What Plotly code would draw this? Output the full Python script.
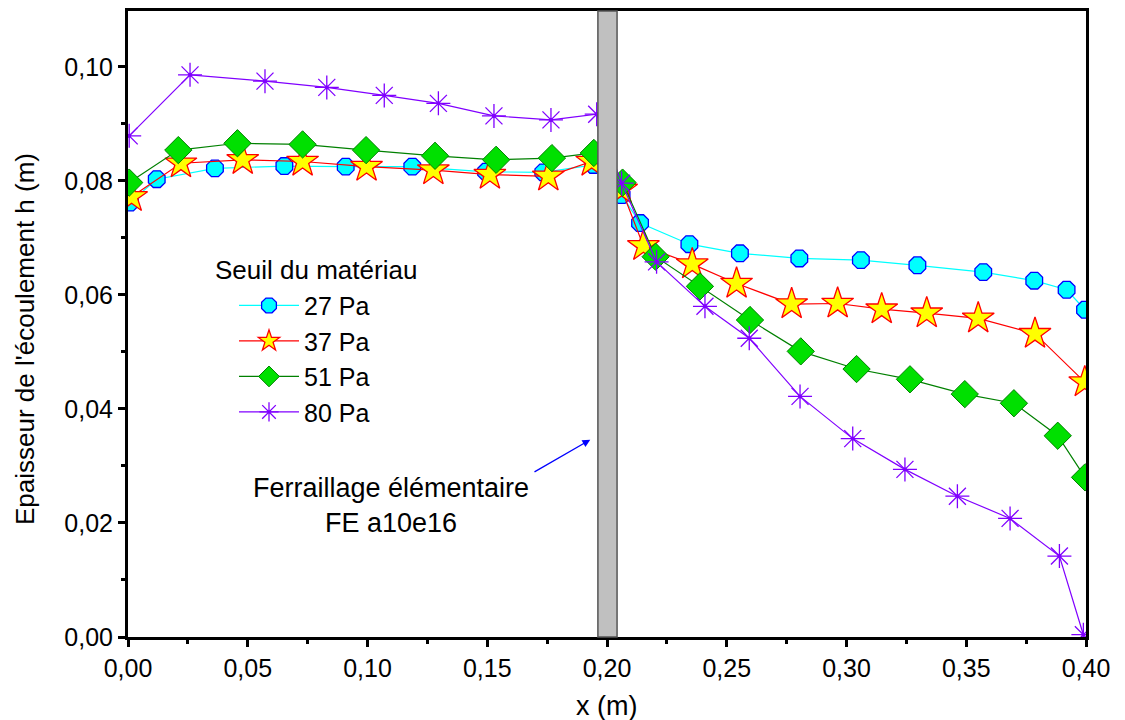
import plotly.graph_objects as go

# ---- data ----
x_27 = [0.0008, 0.012, 0.0363, 0.0653, 0.0909, 0.1187, 0.1495, 0.1734, 0.1943,
        0.2061, 0.2138, 0.2344, 0.2555, 0.2803, 0.306, 0.3296, 0.3571, 0.3784, 0.3919, 0.3996]
y_27 = [0.0762, 0.0803, 0.0822, 0.0826, 0.0825, 0.0825, 0.0816, 0.0815, 0.0828,
        0.0775, 0.0726, 0.0689, 0.0673, 0.0664, 0.0661, 0.0652, 0.0640, 0.0625, 0.0609, 0.0574]

x_37 = [0.0015, 0.0221, 0.0479, 0.0729, 0.0996, 0.1275, 0.1511, 0.1755, 0.1936,
        0.2061, 0.2152, 0.2356, 0.2541, 0.2771, 0.2963, 0.3147, 0.3335, 0.355, 0.3787, 0.3995]
y_37 = [0.0772, 0.0831, 0.0837, 0.0834, 0.0825, 0.0819, 0.0811, 0.0808, 0.0834,
        0.0785, 0.0686, 0.0654, 0.0620, 0.0584, 0.0585, 0.0575, 0.0568, 0.0559, 0.0532, 0.0447]

x_51 = [0.0005, 0.021, 0.0457, 0.0729, 0.0994, 0.1282, 0.1537, 0.177, 0.1945,
        0.2065, 0.2203, 0.2388, 0.2597, 0.2809, 0.3042, 0.3265, 0.3494, 0.3699, 0.3882, 0.3996]
y_51 = [0.0797, 0.0854, 0.0866, 0.0864, 0.0854, 0.0844, 0.0837, 0.0840, 0.0849,
        0.0797, 0.0667, 0.0615, 0.0556, 0.0501, 0.0470, 0.0452, 0.0426, 0.0410, 0.0353, 0.0280]

x_80 = [0.0005, 0.0259, 0.0572, 0.083, 0.107, 0.1296, 0.1528, 0.1766, 0.1957,
        0.2061, 0.2207, 0.2409, 0.2594, 0.2806, 0.3026, 0.3244, 0.3463, 0.3683, 0.3889, 0.3989]
y_80 = [0.0879, 0.0986, 0.0975, 0.0964, 0.0950, 0.0936, 0.0914, 0.0907, 0.0917,
        0.0796, 0.0658, 0.0580, 0.0524, 0.0422, 0.0348, 0.0294, 0.0247, 0.0208, 0.0142, 0.0004]

series_names = ["27 Pa", "37 Pa", "51 Pa", "80 Pa"]
legend_title = "Seuil du matériau"
band_x = [0.1962, 0.2042]
x_ticks = [0.00, 0.05, 0.10, 0.15, 0.20, 0.25, 0.30, 0.35, 0.40]
y_ticks = [0.00, 0.02, 0.04, 0.06, 0.08, 0.10]
x_ticklabels = ["0,00", "0,05", "0,10", "0,15", "0,20", "0,25", "0,30", "0,35", "0,40"]
y_ticklabels = ["0,00", "0,02", "0,04", "0,06", "0,08", "0,10"]

FONT = "Liberation Sans, Arial, sans-serif"

# page body has an 8px margin; figure geometry is set so the plot area
# lands at x 128..1086, y 11..637 of the 1125x720 window
OFF = 8
L, T = 128 - OFF, 11 - OFF
PW, PH = 958, 626
W, H = 1125 - OFF, 720 - OFF

fig = go.Figure()

fig.add_trace(go.Scatter(
    x=x_27, y=y_27, name=series_names[0], mode="lines+markers", legendgroup="a",
    line=dict(color="#00FFFF", width=1.2),
    marker=dict(symbol="octagon", size=18, color="#00FFFF", line=dict(color="#0000FF", width=1.3)),
))
fig.add_trace(go.Scatter(
    x=x_37, y=y_37, name=series_names[1], mode="lines+markers", legendgroup="b",
    line=dict(color="#FF0000", width=1.2),
    marker=dict(symbol="star", size=24, color="#FFFF00", line=dict(color="#FF0000", width=1.3)),
))
fig.add_trace(go.Scatter(
    x=x_51, y=y_51, name=series_names[2], mode="lines+markers", legendgroup="c",
    line=dict(color="#008000", width=1.2),
    marker=dict(symbol="diamond", size=21, color="#00E000", line=dict(color="#008000", width=1)),
))
fig.add_trace(go.Scatter(
    x=x_80, y=y_80, name=series_names[3], mode="lines+markers", legendgroup="d",
    line=dict(color="#8000FF", width=1.2),
    marker=dict(symbol="asterisk-open", size=20, color="#8000FF", line=dict(color="#8000FF", width=1.3)),
))
# centre dots of the asterisks
fig.add_trace(go.Scatter(
    x=x_80, y=y_80, mode="markers", showlegend=False, hoverinfo="skip",
    marker=dict(symbol="circle", size=4, color="#8000FF"),
))

# grey band (ferraillage)
fig.add_shape(type="rect", xref="x", yref="paper", x0=band_x[0], x1=band_x[1], y0=0, y1=1,
              fillcolor="#C0C0C0", line=dict(color="#555555", width=1.5), layer="above")

# annotation with arrow
fig.add_annotation(x=0.1930, y=0.0346, ax=0.1691, ay=0.0288, xref="x", yref="y",
                   axref="x", ayref="y", text="", showarrow=True, arrowhead=2,
                   arrowsize=1.2, arrowwidth=1.3, arrowcolor="#0000FF")
fig.add_annotation(x=0.1100, y=0.0230, xref="x", yref="y", showarrow=False,
                   text="Ferraillage élémentaire<br>FE a10e16",
                   font=dict(family=FONT, size=27, color="#000000"), align="center")

# legend title
fig.add_annotation(x=(213 - 128) / PW, y=(637 - 270) / PH, xref="paper", yref="paper",
                   xanchor="left", yanchor="middle", showarrow=False, text=legend_title,
                   font=dict(family=FONT, size=26, color="#000000"))

# y axis title (placed as in reference)
fig.add_annotation(x=(25 - 128) / PW, y=(637 - 339) / PH, xref="paper", yref="paper",
                   xanchor="center", yanchor="middle", showarrow=False, textangle=-90,
                   text="Epaisseur de l'écoulement h (m)",
                   font=dict(family=FONT, size=26, color="#000000"))

# x axis title
fig.add_annotation(x=(606 - 128) / PW, y=(637 - 706) / PH, xref="paper", yref="paper",
                   xanchor="center", yanchor="middle", showarrow=False,
                   text="x (m)", font=dict(family=FONT, size=27, color="#000000"))

axis_common = dict(
    showline=True, linecolor="#000000", linewidth=3, mirror=True,
    ticks="outside", ticklen=7, tickwidth=3, tickcolor="#000000",
    showgrid=False, zeroline=False, automargin=False,
    tickfont=dict(family=FONT, size=25, color="#000000"),
)

fig.update_layout(
    width=W, height=H,
    paper_bgcolor="white", plot_bgcolor="white",
    margin=dict(l=L, r=W - L - PW, t=T, b=H - T - PH, pad=0),
    font=dict(family=FONT, size=18, color="#000000"),
    xaxis=dict(range=[0, 0.40], tickmode="array", tickvals=x_ticks, ticktext=x_ticklabels,
               minor=dict(ticks="outside", ticklen=4, tickwidth=3, tickcolor="#000000",
                          tickmode="linear", tick0=0, dtick=0.025),
               **axis_common),
    yaxis=dict(range=[0, 0.1098], tickmode="array", tickvals=y_ticks, ticktext=y_ticklabels,
               minor=dict(ticks="outside", ticklen=4, tickwidth=3, tickcolor="#000000",
                          tickmode="linear", tick0=0, dtick=0.01),
               **axis_common),
    showlegend=True,
    legend=dict(
        x=(234 - 128) / PW, y=0.566, xanchor="left", yanchor="top",
        bgcolor="rgba(0,0,0,0)", borderwidth=0,
        font=dict(family=FONT, size=25), tracegroupgap=0, itemwidth=60,
    ),
)

fig.write_html("out.html")
